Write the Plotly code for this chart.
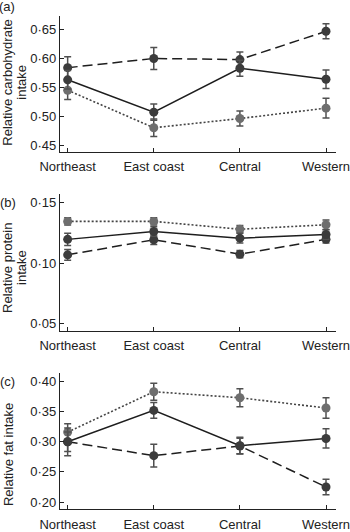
import plotly.graph_objects as go

regions = ["Northeast", "East coast", "Central", "Western"]

# Panel (a) carbohydrate
carb_solid = [0.563, 0.507, 0.583, 0.564]
carb_solid_err = [0.016, 0.014, 0.014, 0.016]
carb_dashed = [0.584, 0.600, 0.598, 0.647]
carb_dashed_err = [0.019, 0.019, 0.013, 0.013]
carb_dotted = [0.545, 0.480, 0.496, 0.514]
carb_dotted_err = [0.016, 0.015, 0.013, 0.017]

# Panel (b) protein
prot_solid = [0.1196, 0.1261, 0.1206, 0.1236]
prot_solid_err = [0.005, 0.004, 0.004, 0.004]
prot_dashed = [0.1068, 0.1193, 0.1073, 0.1196]
prot_dashed_err = [0.0045, 0.004, 0.003, 0.003]
prot_dotted = [0.1345, 0.1345, 0.128, 0.1317]
prot_dotted_err = [0.003, 0.003, 0.003, 0.004]

# Panel (c) fat
fat_solid = [0.300, 0.352, 0.2935, 0.3055]
fat_solid_err = [0.016, 0.013, 0.014, 0.016]
fat_dashed = [0.300, 0.277, 0.293, 0.225]
fat_dashed_err = [0.023, 0.019, 0.013, 0.013]
fat_dotted = [0.316, 0.383, 0.373, 0.356]
fat_dotted_err = [0.014, 0.014, 0.015, 0.017]

carb_ticks = [0.45, 0.50, 0.55, 0.60, 0.65]
carb_ticktext = ["0·45", "0·50", "0·55", "0·60", "0·65"]
prot_ticks = [0.05, 0.10, 0.15]
prot_ticktext = ["0·05", "0·10", "0·15"]
fat_ticks = [0.20, 0.25, 0.30, 0.35, 0.40]
fat_ticktext = ["0·20", "0·25", "0·30", "0·35", "0·40"]

DARK = "#3c3c3c"
GREY = "#6e6e6e"
LINE = "#1e1e1e"
ERR = "#505050"
FONT = "Liberation Sans, Arial, sans-serif"
FS = 13

fig = go.Figure()
xs = list(range(len(regions)))


def add(vals, errs, style, n):
    ax = "" if n == 1 else str(n)
    if style == "solid":
        line = dict(color=LINE, width=1.5)
        mcol = DARK
    elif style == "dashed":
        line = dict(color=LINE, width=1.5, dash="10px,5px")
        mcol = DARK
    else:
        line = dict(color="#444444", width=1.6, dash="2px,2px")
        mcol = GREY
    fig.add_trace(go.Scatter(
        x=xs, y=vals, mode="lines+markers",
        line=line,
        marker=dict(size=9, color=mcol),
        error_y=dict(type="data", array=errs, visible=True, color=ERR,
                     thickness=1.5, width=3.5),
        xaxis="x" + ax, yaxis="y" + ax, showlegend=False,
    ))


add(carb_dotted, carb_dotted_err, "dotted", 1)
add(carb_dashed, carb_dashed_err, "dashed", 1)
add(carb_solid, carb_solid_err, "solid", 1)
add(prot_dotted, prot_dotted_err, "dotted", 2)
add(prot_dashed, prot_dashed_err, "dashed", 2)
add(prot_solid, prot_solid_err, "solid", 2)
add(fat_dotted, fat_dotted_err, "dotted", 3)
add(fat_dashed, fat_dashed_err, "dashed", 3)
add(fat_solid, fat_solid_err, "solid", 3)

W, H = 350, 532
L, R = 60, 14
PW = W - L - R


def ydom(top, bottom):
    return [1 - bottom / H, 1 - top / H]


xcommon = dict(
    range=[-0.089, 3.116], tickvals=xs, ticktext=regions,
    showline=True, linecolor="#222222", linewidth=1.3,
    ticks="inside", ticklen=4, tickcolor="#222222", tickwidth=1.2,
    showgrid=False, zeroline=False, fixedrange=True,
    ticklabeloverflow="allow", ticklabelstandoff=3,
    tickfont=dict(size=FS, color="#222222", family=FONT),
)
ycommon = dict(
    showline=True, linecolor="#222222", linewidth=1.3,
    ticks="inside", ticklen=4, tickcolor="#222222", tickwidth=1.2,
    showgrid=False, zeroline=False, fixedrange=True,
    tickfont=dict(size=FS, color="#222222", family=FONT),
)

fig.update_layout(
    width=W, height=H,
    margin=dict(l=L, r=R, t=0, b=0),
    paper_bgcolor="white", plot_bgcolor="white",
    font=dict(family=FONT, size=FS, color="#222222"),
    xaxis=dict(domain=[0, 1], anchor="y", **xcommon),
    xaxis2=dict(domain=[0, 1], anchor="y2", **xcommon),
    xaxis3=dict(domain=[0, 1], anchor="y3", **xcommon),
    yaxis=dict(domain=ydom(16, 154), anchor="x", range=[0.4386, 0.6739],
               tickvals=carb_ticks, ticktext=carb_ticktext, **ycommon),
    yaxis2=dict(domain=ydom(197.3, 335.7), anchor="x2", range=[0.044, 0.1569],
                tickvals=prot_ticks, ticktext=prot_ticktext, **ycommon),
    yaxis3=dict(domain=ydom(378.3, 516.7), anchor="x3", range=[0.1886, 0.4147],
                tickvals=fat_ticks, ticktext=fat_ticktext, **ycommon),
)


def px_x(px):
    return (px - L) / PW


def px_y(py):
    return 1 - py / H


annots = [
    ("(a)", 7, 7, 0),
    ("(b)", 8, 206, 0),
    ("(c)", 7.5, 387, 0),
    ("Relative carbohydrate", 8, 84, -90),
    ("intake", 22, 84, -90),
    ("Relative protein", 8, 272, -90),
    ("intake", 22, 272, -90),
    ("Relative fat intake", 8, 462, -90),
]
for text, ax_, ay_, ang in annots:
    fig.add_annotation(
        text=text, xref="paper", yref="paper",
        x=px_x(ax_), y=px_y(ay_), xanchor="center", yanchor="middle",
        showarrow=False, textangle=ang,
        font=dict(size=FS, color="#222222", family=FONT),
    )

fig.write_html(
    "out.html",
    config={"displayModeBar": False},
    post_script="document.body.style.margin='0';document.body.style.padding='0';",
)
